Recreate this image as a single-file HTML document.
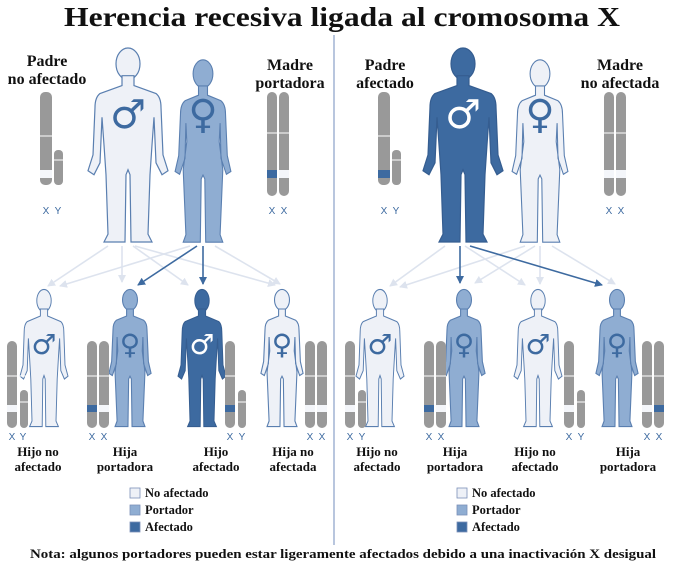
<!DOCTYPE html>
<html><head><meta charset="utf-8"><style>
html,body{margin:0;padding:0;background:#fff}
svg{display:block}
.t{font-family:"Liberation Serif",serif;font-weight:bold;fill:#111}
.xy{font-family:"Liberation Sans",sans-serif;font-size:10px;fill:#3d6aa0}
.sym{font-family:"DejaVu Sans",sans-serif;font-weight:bold}
</style></head><body>
<svg width="686" height="569" viewBox="0 0 686 569" xmlns="http://www.w3.org/2000/svg">
<defs>
<g id="male">
<ellipse cx="0" cy="18" rx="12" ry="16"/>
<path d="M-6,30 L-6,40 L-28,48 Q-33,52 -33,62 L-35,110 L-40,126 L-34,130 L-28,118 L-26,72 L-24,100 L-22,130 L-20,190 L-24,198 L-3,198 L-2,130 L0,125 L2,130 L3,198 L24,198 L20,190 L22,130 L24,100 L26,72 L28,118 L34,130 L40,126 L35,110 L33,62 Q33,52 28,48 L6,40 L6,30 Z"/>
</g>
<g id="female">
<ellipse cx="0" cy="17" rx="11" ry="15"/>
<path d="M-5,30 L-5,40 L-20,46 Q-25,50 -25,60 L-27,105 L-31,122 L-26,125 L-20,108 L-19,70 L-18,90 L-22,120 L-19,190 L-22,198 L-3,198 L-2,130 L0,126 L2,130 L3,198 L22,198 L19,190 L22,120 L18,90 L19,70 L20,108 L26,125 L31,122 L27,105 L25,60 Q25,50 20,46 L5,40 L5,30 Z"/>
</g>
<marker id="al" markerWidth="8" markerHeight="8" refX="7" refY="4" orient="auto" markerUnits="userSpaceOnUse"><path d="M0,0 L8,4 L0,8 Z" fill="#dde3ee"/></marker>
<marker id="ad" markerWidth="8" markerHeight="8" refX="7" refY="4" orient="auto" markerUnits="userSpaceOnUse"><path d="M0,0 L8,4 L0,8 Z" fill="#3d6aa0"/></marker>
</defs>

<text class="t" x="64" y="26" font-size="27" textLength="556" lengthAdjust="spacingAndGlyphs">Herencia  recesiva  ligada al cromosoma X</text>
<line x1="334" y1="35" x2="334" y2="545" stroke="#8aa0c8" stroke-width="1.2"/>

<g class="t" font-size="16" text-anchor="middle">
<text x="47" y="66">Padre</text><text x="47" y="84">no afectado</text>
<text x="290" y="70">Madre</text><text x="290" y="88">portadora</text>
<text x="385" y="70">Padre</text><text x="385" y="88">afectado</text>
<text x="620" y="70">Madre</text><text x="620" y="88">no afectada</text>
</g>

<g stroke-width="1.6" fill="none">
<g stroke="#dde3ee" marker-end="url(#al)">
<line x1="108" y1="246" x2="48" y2="286"/>
<line x1="122" y1="246" x2="122" y2="282"/>
<line x1="133" y1="246" x2="188" y2="285"/>
<line x1="135" y1="246" x2="275" y2="285"/>
<line x1="190" y1="246" x2="60" y2="286"/>
<line x1="215" y1="246" x2="280" y2="284"/>
<line x1="445" y1="246" x2="390" y2="286"/>
<line x1="465" y1="246" x2="525" y2="285"/>
<line x1="525" y1="246" x2="400" y2="287"/>
<line x1="535" y1="246" x2="475" y2="283"/>
<line x1="540" y1="246" x2="540" y2="284"/>
<line x1="552" y1="246" x2="615" y2="284"/>
</g>
<g stroke="#3d6aa0" marker-end="url(#ad)">
<line x1="197" y1="246" x2="138" y2="285"/>
<line x1="203" y1="246" x2="203" y2="284"/>
<line x1="460" y1="246" x2="460" y2="283"/>
<line x1="470" y1="246" x2="602" y2="285"/>
</g>
</g>

<use href="#male" transform="translate(128,46) scale(1.0,0.99)" fill="#eef1f7" stroke="#5a7fb0" stroke-width="1.2"/>
<use href="#female" transform="translate(203,58) scale(0.9,0.93)" fill="#8fadd2" stroke="#5a7fb0" stroke-width="1.2"/>
<use href="#male" transform="translate(463,46) scale(1.0,0.99)" fill="#3d6aa0" stroke="#355d90" stroke-width="1.2"/>
<use href="#female" transform="translate(540,58) scale(0.9,0.93)" fill="#eef1f7" stroke="#5a7fb0" stroke-width="1.2"/>
<g class="sym" font-size="40" text-anchor="middle">
<text x="128" y="128" fill="#3d6aa0">♂</text>
<text x="203" y="128" fill="#3d6aa0">♀</text>
<text x="463" y="128" fill="#fff">♂</text>
<text x="540" y="128" fill="#3d6aa0">♀</text>
</g>

<use href="#male" transform="translate(44,288) scale(0.6,0.7)" fill="#eef1f7" stroke="#5a7fb0" stroke-width="1.6"/>
<use href="#female" transform="translate(130,288) scale(0.68,0.7)" fill="#8fadd2" stroke="#5a7fb0" stroke-width="1.6"/>
<use href="#male" transform="translate(202,288) scale(0.6,0.7)" fill="#3d6aa0" stroke="#355d90" stroke-width="1.6"/>
<use href="#female" transform="translate(282,288) scale(0.68,0.7)" fill="#eef1f7" stroke="#5a7fb0" stroke-width="1.6"/>
<use href="#male" transform="translate(380,288) scale(0.6,0.7)" fill="#eef1f7" stroke="#5a7fb0" stroke-width="1.6"/>
<use href="#female" transform="translate(464,288) scale(0.68,0.7)" fill="#8fadd2" stroke="#5a7fb0" stroke-width="1.6"/>
<use href="#male" transform="translate(538,288) scale(0.6,0.7)" fill="#eef1f7" stroke="#5a7fb0" stroke-width="1.6"/>
<use href="#female" transform="translate(617,288) scale(0.68,0.7)" fill="#8fadd2" stroke="#5a7fb0" stroke-width="1.6"/>
<g class="sym" font-size="28" text-anchor="middle">
<text x="44" y="354" fill="#3d6aa0">♂</text>
<text x="130" y="354" fill="#3d6aa0">♀</text>
<text x="202" y="354" fill="#fff">♂</text>
<text x="282" y="354" fill="#3d6aa0">♀</text>
<text x="380" y="354" fill="#3d6aa0">♂</text>
<text x="464" y="354" fill="#3d6aa0">♀</text>
<text x="538" y="354" fill="#3d6aa0">♂</text>
<text x="617" y="354" fill="#3d6aa0">♀</text>
</g>

<g fill="#999">
<rect x="40" y="92" width="12" height="93" rx="5"/><rect x="54" y="150" width="9" height="35" rx="4"/>
<rect x="267" y="92" width="10" height="104" rx="5"/><rect x="279" y="92" width="10" height="104" rx="5"/>
<rect x="378" y="92" width="12" height="93" rx="5"/><rect x="392" y="150" width="9" height="35" rx="4"/>
<rect x="604" y="92" width="10" height="104" rx="5"/><rect x="616" y="92" width="10" height="104" rx="5"/>
<rect x="7" y="341" width="10" height="87" rx="5"/><rect x="20" y="390" width="8" height="38" rx="4"/>
<rect x="87" y="341" width="10" height="87" rx="5"/><rect x="99" y="341" width="10" height="87" rx="5"/>
<rect x="225" y="341" width="10" height="87" rx="5"/><rect x="238" y="390" width="8" height="38" rx="4"/>
<rect x="305" y="341" width="10" height="87" rx="5"/><rect x="317" y="341" width="10" height="87" rx="5"/>
<rect x="345" y="341" width="10" height="87" rx="5"/><rect x="358" y="390" width="8" height="38" rx="4"/>
<rect x="424" y="341" width="10" height="87" rx="5"/><rect x="436" y="341" width="10" height="87" rx="5"/>
<rect x="564" y="341" width="10" height="87" rx="5"/><rect x="577" y="390" width="8" height="38" rx="4"/>
<rect x="642" y="341" width="10" height="87" rx="5"/><rect x="654" y="341" width="10" height="87" rx="5"/>
</g>
<g stroke="#fff" stroke-width="1">
<line x1="40" y1="136" x2="52" y2="136"/><line x1="54" y1="160" x2="63" y2="160"/>
<line x1="267" y1="133" x2="289" y2="133"/><line x1="378" y1="136" x2="390" y2="136"/><line x1="392" y1="160" x2="401" y2="160"/>
<line x1="604" y1="133" x2="626" y2="133"/>
<line x1="7" y1="376" x2="28" y2="376"/><line x1="20" y1="402" x2="28" y2="402"/>
<line x1="87" y1="376" x2="109" y2="376"/><line x1="225" y1="376" x2="235" y2="376"/><line x1="238" y1="402" x2="246" y2="402"/>
<line x1="305" y1="376" x2="327" y2="376"/><line x1="345" y1="376" x2="355" y2="376"/><line x1="358" y1="402" x2="366" y2="402"/>
<line x1="424" y1="376" x2="446" y2="376"/><line x1="564" y1="376" x2="574" y2="376"/><line x1="577" y1="402" x2="585" y2="402"/>
<line x1="642" y1="376" x2="664" y2="376"/>
</g>
<g>
<rect x="40" y="170" width="12" height="8" fill="#f4f6fa"/>
<rect x="267" y="170" width="10" height="8" fill="#3d6aa0"/><rect x="279" y="170" width="10" height="8" fill="#f4f6fa"/>
<rect x="378" y="170" width="12" height="8" fill="#3d6aa0"/>
<rect x="604" y="170" width="10" height="8" fill="#f4f6fa"/><rect x="616" y="170" width="10" height="8" fill="#f4f6fa"/>
<rect x="7" y="405" width="10" height="7" fill="#f4f6fa"/>
<rect x="87" y="405" width="10" height="7" fill="#3d6aa0"/><rect x="99" y="405" width="10" height="7" fill="#f4f6fa"/>
<rect x="225" y="405" width="10" height="7" fill="#3d6aa0"/>
<rect x="305" y="405" width="10" height="7" fill="#f4f6fa"/><rect x="317" y="405" width="10" height="7" fill="#f4f6fa"/>
<rect x="345" y="405" width="10" height="7" fill="#f4f6fa"/>
<rect x="424" y="405" width="10" height="7" fill="#3d6aa0"/><rect x="436" y="405" width="10" height="7" fill="#f4f6fa"/>
<rect x="564" y="405" width="10" height="7" fill="#f4f6fa"/>
<rect x="642" y="405" width="10" height="7" fill="#f4f6fa"/><rect x="654" y="405" width="10" height="7" fill="#3d6aa0"/>
</g>
<g class="xy" text-anchor="middle">
<text x="46" y="214">X</text><text x="58" y="214">Y</text>
<text x="272" y="214">X</text><text x="284" y="214">X</text>
<text x="384" y="214">X</text><text x="396" y="214">Y</text>
<text x="609" y="214">X</text><text x="621" y="214">X</text>
<text x="12" y="440">X</text><text x="23" y="440">Y</text>
<text x="92" y="440">X</text><text x="104" y="440">X</text>
<text x="230" y="440">X</text><text x="242" y="440">Y</text>
<text x="310" y="440">X</text><text x="322" y="440">X</text>
<text x="350" y="440">X</text><text x="362" y="440">Y</text>
<text x="429" y="440">X</text><text x="441" y="440">X</text>
<text x="569" y="440">X</text><text x="581" y="440">Y</text>
<text x="647" y="440">X</text><text x="659" y="440">X</text>
</g>

<g class="t" font-size="13" text-anchor="middle">
<text x="38" y="456">Hijo no</text><text x="38" y="471">afectado</text>
<text x="125" y="456">Hija</text><text x="125" y="471">portadora</text>
<text x="216" y="456">Hijo</text><text x="216" y="471">afectado</text>
<text x="293" y="456">Hija no</text><text x="293" y="471">afectada</text>
<text x="377" y="456">Hijo no</text><text x="377" y="471">afectado</text>
<text x="455" y="456">Hija</text><text x="455" y="471">portadora</text>
<text x="535" y="456">Hijo no</text><text x="535" y="471">afectado</text>
<text x="628" y="456">Hija</text><text x="628" y="471">portadora</text>
</g>

<g stroke="#7a90b8" stroke-width="0.8">
<rect x="130" y="488" width="10" height="10" fill="#eef1f7"/>
<rect x="130" y="505" width="10" height="10" fill="#8fadd2"/>
<rect x="130" y="522" width="10" height="10" fill="#3d6aa0"/>
<rect x="457" y="488" width="10" height="10" fill="#eef1f7"/>
<rect x="457" y="505" width="10" height="10" fill="#8fadd2"/>
<rect x="457" y="522" width="10" height="10" fill="#3d6aa0"/>
</g>
<g class="t" font-size="12.5">
<text x="145" y="497">No afectado</text><text x="145" y="514">Portador</text><text x="145" y="531">Afectado</text>
<text x="472" y="497">No afectado</text><text x="472" y="514">Portador</text><text x="472" y="531">Afectado</text>
</g>
<text class="t" x="30" y="558" font-size="13" textLength="626" lengthAdjust="spacingAndGlyphs">Nota: algunos portadores pueden estar ligeramente afectados debido a una inactivación X desigual</text>
</svg>
</body></html>
